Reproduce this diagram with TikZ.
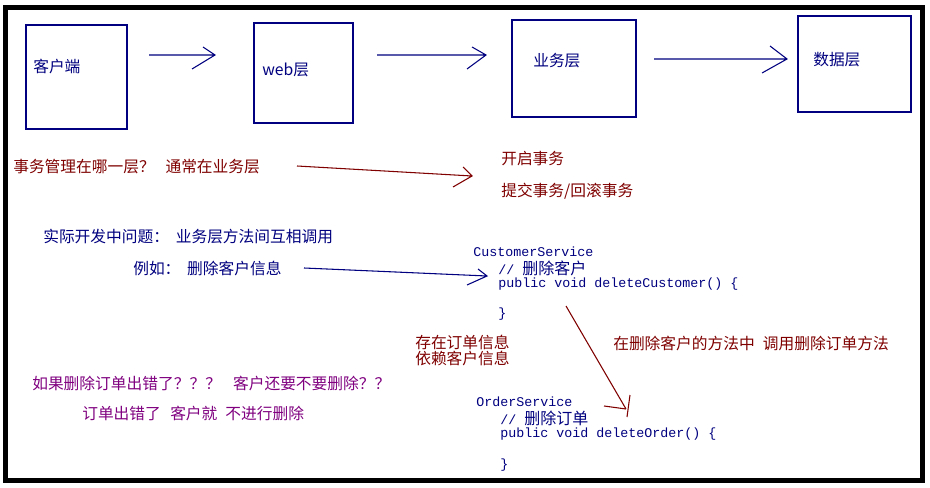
\documentclass[tikz,border=0pt]{standalone}
\usepackage{fontspec}
\setmainfont{Noto Sans CJK SC}
\newfontfamily\cjk{Noto Sans CJK SC}
\newfontfamily\codefont{Liberation Mono}
\definecolor{navyc}{HTML}{000080}
\definecolor{darkredc}{HTML}{800000}
\definecolor{purplec}{HTML}{800080}
\newcommand{\gp}[1]{\hspace{#1pt}}
\begin{document}
\begin{tikzpicture}[x=0.75pt,y=-0.75pt,
  layerbox/.style={draw=navyc,line width=0.9pt},
  lbl/.style={anchor=west,inner sep=0pt,font=\cjk\fontsize{11.8}{12}\selectfont},
  code/.style={anchor=west,inner sep=0pt,text=navyc,font=\codefont\fontsize{10}{12}\selectfont},
  conn/.style={line width=0.8pt}]
\useasboundingbox (0,0) rectangle (930,488);
\fill[white] (0,0) rectangle (930,488);
\draw[line width=3.75pt] (5.5,7.5) rectangle (922.5,480.5);

% layer boxes
\draw[layerbox] (26,25) rectangle (127,129);
\draw[layerbox] (254,23) rectangle (353,123);
\draw[layerbox] (512,20) rectangle (636,117);
\draw[layerbox] (798,16) rectangle (911,112);
\node[lbl,text=navyc] (client) at (33,67) {客户端};
\node[lbl,text=navyc] (web) at (262,70) {web层};
\node[lbl,text=navyc] (biz) at (533,61) {业务层};
\node[lbl,text=navyc] (data) at (813,60) {数据层};

% arrows between layers
\coordinate (a1s) at (149,55); \coordinate (a1e) at (215,55);
\draw[conn,navyc] (a1s) -- (a1e) (203,47) -- (a1e) -- (192,69);
\coordinate (a2s) at (377,55); \coordinate (a2e) at (486,55);
\draw[conn,navyc] (a2s) -- (a2e) (472,47) -- (a2e) -- (467,69);
\coordinate (a3s) at (654,59); \coordinate (a3e) at (787,59);
\draw[conn,navyc] (a3s) -- (a3e) (770,46) -- (a3e) -- (762,73);

% transaction
\node[lbl,text=darkredc] (q1) at (13,167) {事务管理在哪一层？\gp{8}通常在业务层};
\node[lbl,text=darkredc] (open) at (501,159) {开启事务};
\node[lbl,text=darkredc] (commit) at (501,191) {提交事务/回滚事务};
\coordinate (r1s) at (297,166); \coordinate (r1e) at (472,176);
\draw[conn,darkredc] (r1s) -- (r1e) (463,167) -- (r1e) -- (453,187);

% problem
\node[lbl,text=navyc] (prob) at (43,237) {实际开发中问题：\gp{5}业务层方法间互相调用};
\node[lbl,text=navyc] (eg) at (133,268) {例如：\gp{5}删除客户信息};
\coordinate (b1s) at (304,268); \coordinate (b1e) at (487,276);
\draw[conn,navyc] (b1s) -- (b1e) (478,269) -- (b1e) -- (467,285);

% CustomerService code
\node[code] (cs) at (473,252) {CustomerService};
\node[code] (cs1) at (498,268) {// {\cjk\fontsize{12}{12}\selectfont 删除客户}};
\node[code] (cs2) at (498,284) {public void deleteCustomer() \{};
\node[code] (cs3) at (498,314) {\}};

% notes
\node[lbl,text=darkredc,align=left] (dep) at (415,350) {存在订单信息\\依赖客户信息};
\node[lbl,text=darkredc] (call) at (613,343) {在删除客户的方法中\gp{6}调用删除订单方法};
\coordinate (d1s) at (566,306); \coordinate (d1e) at (626,409);
\draw[conn,darkredc] (d1s) -- (d1e) (604,406) -- (d1e) (630,395) -- (627,417);

\node[lbl,text=purplec] (if) at (32,383) {如果删除订单出错了？？？\gp{9}客户还要不要删除？？};
\node[lbl,text=purplec] (ans) at (82,413) {订单出错了\gp{7}客户就\gp{6}不进行删除};

% OrderService code
\node[code] (os) at (476,402) {OrderService};
\node[code] (os1) at (500,418) {// {\cjk\fontsize{12}{12}\selectfont 删除订单}};
\node[code] (os2) at (500,434) {public void deleteOrder() \{};
\node[code] (os3) at (500,465) {\}};
\end{tikzpicture}
\end{document}
